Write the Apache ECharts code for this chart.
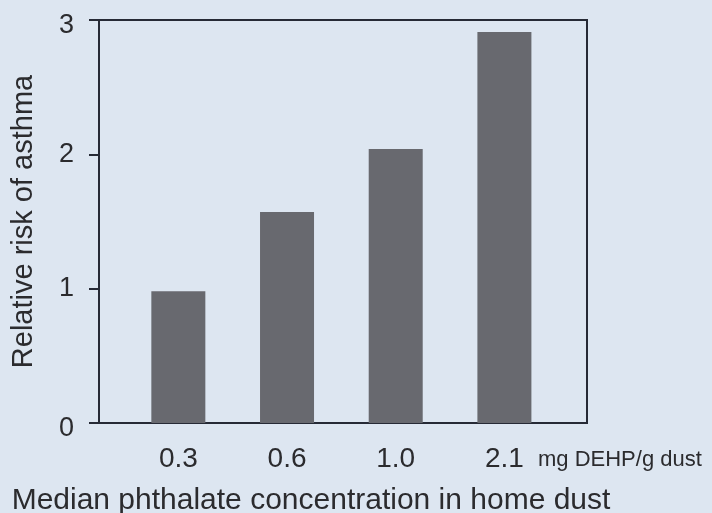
<!DOCTYPE html>
<html>
<head>
<meta charset="utf-8">
<script src="https://cdn.jsdelivr.net/npm/echarts@6/dist/echarts.min.js"></script>
<style>
html,body{margin:0;padding:0;background:#dde6f1;}
#chart{width:712px;height:513px;}
</style>
</head>
<body>
<div id="chart"></div>
<script>
const categories = ['0.3', '0.6', '1.0', '2.1'];
const relativeRisk = [0.98, 1.57, 2.04, 2.91];
const yTicks = [0, 1, 2, 3];
const unitLabel = 'mg DEHP/g dust';
const xTitle = 'Median phthalate concentration in home dust';
const yTitle = 'Relative risk of asthma';

const positions = categories.map((c, i) => i + 1);
const barData = positions.map((p, i) => [p, relativeRisk[i]]);
const lineColor = '#262a36';
const textColor = '#2b2b2e';
const font = 'Liberation Sans';
const yMin = yTicks[0], yMax = yTicks[yTicks.length - 1];

const chart = echarts.init(document.getElementById('chart'));
chart.setOption({
  backgroundColor: '#dde6f1',
  animation: false,
  grid: {
    left: 99, right: 125, top: 20, bottom: 90,
    outerBoundsMode: 'none', containLabel: false,
    show: true, borderColor: lineColor, borderWidth: 2, backgroundColor: 'transparent'
  },
  xAxis: [{
    type: 'value', min: 0.27, max: 4.76,
    splitLine: { show: false },
    axisLine: { show: true, onZero: false, lineStyle: { color: lineColor, width: 2 } },
    axisTick: { show: false },
    axisLabel: {
      customValues: positions,
      formatter: v => categories[Math.round(v) - 1] || '',
      color: textColor, fontFamily: font, fontSize: 28, margin: 22
    },
    name: xTitle, nameLocation: 'middle', nameGap: 63,
    nameTextStyle: { color: textColor, fontFamily: font, fontSize: 30, padding: [0, 64, 0, 0] }
  }, {
    type: 'value', min: 0.27, max: 4.76, position: 'bottom',
    axisLine: { show: false }, axisTick: { show: false }, axisLabel: { show: false },
    splitLine: { show: false },
    name: unitLabel, nameLocation: 'end', nameGap: -49,
    nameTextStyle: { color: textColor, fontFamily: font, fontSize: 22, align: 'left', verticalAlign: 'top', padding: [26, 0, 0, 0] }
  }],
  yAxis: {
    type: 'value', min: yMin, max: yMax, interval: 1,
    splitLine: { show: false },
    axisLine: { show: true, lineStyle: { color: lineColor, width: 2 } },
    axisTick: { show: true, inside: false, length: 10, lineStyle: { color: lineColor, width: 2 } },
    axisLabel: {
      color: textColor, fontFamily: font, fontSize: 27, margin: 25,
      formatter: v => (v === yMin || v === yMax) ? '{e|' + v + '}' : String(v),
      rich: { e: { color: textColor, fontFamily: font, fontSize: 27, padding: [11, 0, 0, 0] } }
    },
    name: yTitle, nameLocation: 'middle', nameGap: 61, nameRotate: 90,
    nameTextStyle: { color: textColor, fontFamily: font, fontSize: 29 }
  },
  series: [{
    type: 'bar', xAxisIndex: 0, data: barData, barWidth: 54,
    itemStyle: { color: '#68696f' }
  }]
});
</script>
</body>
</html>
